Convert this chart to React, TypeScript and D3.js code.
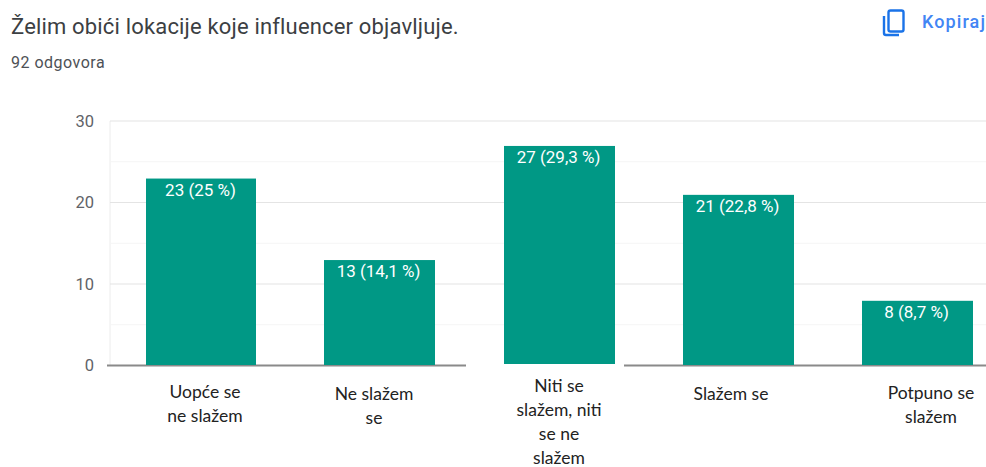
import React from "react";
import * as d3 from "d3";

const categories = ["Uopće se", "Ne slažem", "Niti se", "Slažem se", "Potpuno se"];
const categoryLines = [
  ["Uopće se", "ne slažem"],
  ["Ne slažem", "se"],
  ["Niti se", "slažem, niti", "se ne", "slažem"],
  ["Slažem se"],
  ["Potpuno se", "slažem"],
];
const values = [23, 13, 27, 21, 8];
const valueLabels = ["23 (25 %)", "13 (14,1 %)", "27 (29,3 %)", "21 (22,8 %)", "8 (8,7 %)"];
const barLeft = [146, 324, 504, 683, 862];
const yTicks = [0, 10, 20, 30];
const minorTicks = [5, 15, 25];
const labelCenters = [205, 374, 559, 731, 931];
const labelTops = [398, 400, 392, 400, 399];

const F = "Roboto, sans-serif";
const C = "Lato, sans-serif";

export default function App() {
  const y = d3.scaleLinear().domain([0, 30]).range([365.5, 121]);
  return (
    <svg width={986} height={467} style={{ position: "absolute", left: 0, top: 0, background: "#fff" }}>
      <text x={11} y={34} fontFamily={F} fontSize={22} fill="#3c4043" letterSpacing={0.17}>Želim obići lokacije koje influencer objavljuje.</text>
      <text x={11} y={68} fontFamily={F} fontSize={16} fill="#4d5156" letterSpacing={0.5}>92 odgovora</text>
      <g fill="none" stroke="#1a73e8" strokeWidth={2.4}>
        <rect x={888.5} y={10.5} width={15} height={21} rx={2} />
        <path d="M884 16 V33 a2 2 0 0 0 2 2 H899" />
      </g>
      <text x={922} y={28} fontFamily={F} fontSize={18} fontWeight={500} fill="#4285f4" letterSpacing={1.1}>Kopiraj</text>

      <line x1={110} x2={110} y1={121} y2={365} stroke="#ececec" />
      {minorTicks.map((t) => (
        <line key={t} x1={110} x2={986} y1={y(t)} y2={y(t)} stroke="#f5f5f5" />
      ))}
      {yTicks.filter((t) => t > 0).map((t) => (
        <line key={t} x1={110} x2={986} y1={y(t)} y2={y(t)} stroke="#e4e4e4" strokeWidth={1.2} />
      ))}
      {yTicks.map((t) => (
        <text key={t} x={94} y={y(t) + 5.5} textAnchor="end" fontFamily={F} fontSize={16.5} fill="#5f6368">{t}</text>
      ))}
      <line x1={107} x2={466} y1={365.5} y2={365.5} stroke="#8a8a8a" strokeWidth={2} />
      <line x1={624} x2={986} y1={365.5} y2={365.5} stroke="#8a8a8a" strokeWidth={2} />

      {values.map((v, i) => (
        <g key={categories[i]}>
          <rect x={barLeft[i]} y={y(v) + 0.5} width={i === 0 ? 110 : 111} height={(i === 2 ? 364 : 365) - y(v) - 0.5} fill="#009885" />
          <text x={barLeft[i] + 54.5} y={y(v) + 17.5} textAnchor="middle" fontFamily={F} fontSize={17} fill="#fff">{valueLabels[i]}</text>
        </g>
      ))}

      {categoryLines.map((lines, i) =>
        lines.map((l, j) => (
          <text key={l + j} x={labelCenters[i]} y={labelTops[i] + j * 24} textAnchor="middle" fontFamily={C} fontSize={17.5} fill="#222">{l}</text>
        ))
      )}
    </svg>
  );
}
